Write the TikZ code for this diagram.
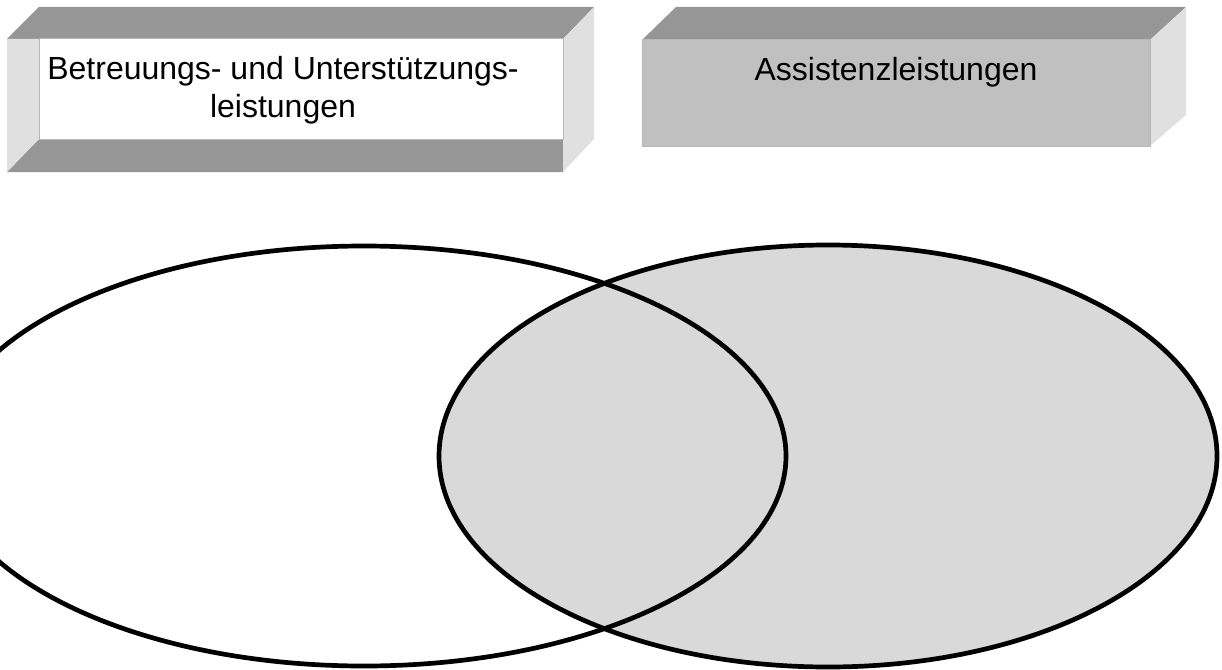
\documentclass[tikz,border=0pt]{standalone}
\usepackage{fontspec}
\setmainfont{Liberation Sans}
\usetikzlibrary{shapes.geometric}

\definecolor{bandgris}{gray}{0.588}
\definecolor{ladogris}{gray}{0.878}
\definecolor{frentegris}{gray}{0.753}
\definecolor{bordegris}{gray}{0.72}
\definecolor{conjgris}{gray}{0.851}

\begin{document}
\begin{tikzpicture}[x=1pt, y=-1pt,
    conjunto/.style={ellipse, draw, line width=4.7pt, inner sep=0pt},
    texto/.style={font=\fontsize{32}{38}\selectfont, align=center, inner sep=0pt}]
    \useasboundingbox (0,0) rectangle (1222,669);
    \clip (0,0) rectangle (1222,669);

    % Dibuja la primera caja (marco biselado)
    \fill[white] (39,39) rectangle (563,139);
    \fill[bandgris] (7,39) -- (39,7) -- (594,7) -- (563,39) -- cycle;
    \fill[bandgris] (7,172) -- (39,139) -- (563,139) -- (563,172) -- cycle;
    \fill[ladogris] (7,39) -- (39,39) -- (39,139) -- (7,172) -- cycle;
    \fill[ladogris] (563,39) -- (594,7) -- (594,139) -- (563,172) -- cycle;
    \draw[bordegris, line width=1pt] (39,39) rectangle (563,139);
    \node[texto] (betreuung) at (283,90.6) {Betreuungs- und Unterstützungs-\\leistungen};

    % Dibuja la segunda caja (cubo)
    \fill[frentegris] (642,40) rectangle (1150,146);
    \fill[bandgris] (642,40) -- (676,7) -- (1186,7) -- (1150,40) -- cycle;
    \fill[ladogris] (1150,40) -- (1186,7) -- (1186,115) -- (1150,146) -- cycle;
    \draw[bordegris, line width=1pt] (642,40) rectangle (1150,146);
    \node[texto, anchor=base] (assistenz) at (896,81) {Assistenzleistungen};

    % Dibuja los dos conjuntos
    \node[conjunto, fill=conjgris, minimum width=778pt, minimum height=422pt] (assistenzmenge) at (828,456) {};
    \node[conjunto, minimum width=844pt, minimum height=420pt] (betreuungsmenge) at (364,456) {};
\end{tikzpicture}
\end{document}
